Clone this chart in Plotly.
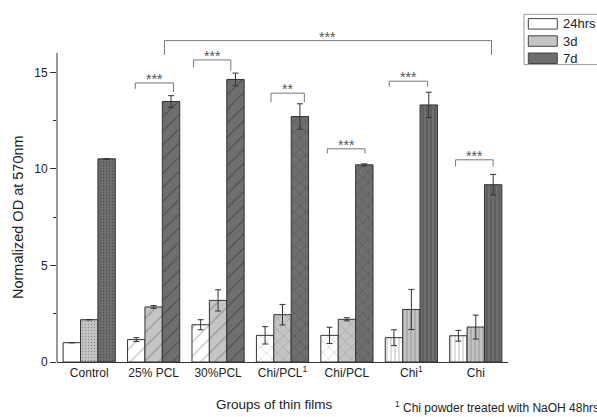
import plotly.graph_objects as go

# ---- data -------------------------------------------------------------
groups = ["Control", "25% PCL", "30%PCL", "Chi/PCL<sup>1</sup>", "Chi/PCL",
          "Chi<sup>1</sup>", "Chi"]
series = ["24hrs", "3d", "7d"]

od_24h = [1.00, 1.16, 1.93, 1.38, 1.38, 1.26, 1.36]
od_3d = [2.19, 2.85, 3.19, 2.45, 2.21, 2.72, 1.81]
od_7d = [10.52, 13.49, 14.63, 12.71, 10.21, 13.31, 9.18]

err_24h = [None, 0.10, 0.26, 0.45, 0.42, 0.41, 0.28]
err_3d = [None, 0.07, 0.55, 0.53, 0.08, 1.04, 0.62]
err_7d = [None, 0.30, 0.33, 0.66, 0.05, 0.66, 0.53]

# significance brackets: left x, right x, bar height, left leg end, right leg end, label
brackets = [
    (0.714, 1.308, 14.45, 14.14, 13.97, "***"),
    (1.618, 2.198, 15.64, 15.26, 15.09, "***"),
    (1.168, 6.244, 16.64, 15.90, 15.90, "***"),
    (2.822, 3.339, 13.92, 13.45, 13.45, "**"),
    (3.695, 4.280, 11.04, 10.80, 10.80, "***"),
    (4.657, 5.252, 14.54, 14.26, 14.26, "***"),
    (5.686, 6.269, 10.47, 10.12, 10.12, "***"),
]

footnote = "<sup>1</sup> Chi powder treated with NaOH 48hrs"

# ---- styling ----------------------------------------------------------
FONT = "Liberation Sans, Arial, sans-serif"
TXT = "#222222"
fills = ["#ffffff", "#c4c4c4", "#6e6e6e"]
hatch_fg = ["#666666", "#555555", "#2a2a2a"]
hatch = [".", "/", "/", "x", "x", "|", "|"]
hatch_size = [3, 10, 10, 8, 8, 4, 4]
hatch_solid = [0.15, 0.1, 0.1, 0.1, 0.1, 0.22, 0.22]

Y_MAX = 16
x_pos = list(range(len(groups)))

fig = go.Figure()
for i, (name, vals, errs) in enumerate(zip(series, [od_24h, od_3d, od_7d],
                                           [err_24h, err_3d, err_7d])):
    shapes_i = list(hatch)
    if i == 0:
        shapes_i[0] = ""  # plain white control bar
    fig.add_trace(go.Bar(
        name=name, x=x_pos, y=vals,
        marker=dict(
            color=fills[i],
            line=dict(color="#333333", width=1),
            pattern=dict(shape=shapes_i, fgcolor=hatch_fg[i], size=hatch_size,
                         solidity=hatch_solid, fillmode="overlay"),
        ),
        error_y=dict(type="data", array=errs, visible=True, color="#333333",
                     thickness=1, width=3),
        showlegend=False,
    ))

shapes = []
annotations = []

# y axis line, drawn only up to the top of the value range
shapes.append(dict(type="line", xref="paper", yref="paper", x0=0, x1=0, y0=0, y1=1,
                   line=dict(color="#333333", width=1)))

for xl, xr, yt, yl, yr, lab in brackets:
    path = (f"M {xl},{yl / Y_MAX} L {xl},{yt / Y_MAX} "
            f"L {xr},{yt / Y_MAX} L {xr},{yr / Y_MAX}")
    shapes.append(dict(type="path", xref="x", yref="paper", path=path,
                       line=dict(color="#777777", width=1)))
    annotations.append(dict(x=(xl + xr) / 2, y=yt / Y_MAX, xref="x", yref="paper",
                            text=lab, showarrow=False, yanchor="middle", yshift=4,
                            font=dict(family=FONT, size=14, color="#555555")))

# legend box
PL, PW = 57.0, 451.0
PB, PH = 361.7, 309.0
def px_x(v):
    return (v - PL) / PW
def px_y(v):
    return (PB - v) / PH

shapes.append(dict(type="rect", xref="paper", yref="paper",
                   x0=px_x(524), x1=px_x(604), y0=px_y(64.3), y1=px_y(14),
                   line=dict(color="#999999", width=1), fillcolor="white", layer="above"))
row_tops = [18.3, 35.5, 52.7]
for name, fc, top in zip(series, fills, row_tops):
    shapes.append(dict(type="rect", xref="paper", yref="paper",
                       x0=px_x(528.3), x1=px_x(557.3), y0=px_y(top + 10.5), y1=px_y(top),
                       line=dict(color="#444444", width=1), fillcolor=fc, layer="above"))
    annotations.append(dict(x=px_x(560.5), y=px_y(top + 5.2), xref="paper", yref="paper",
                            text=name, showarrow=False, xanchor="left", yanchor="middle",
                            font=dict(family=FONT, size=13, color=TXT)))

# axis titles and footnote
annotations.append(dict(x=px_x(18), y=px_y(216.7), xref="paper", yref="paper",
                        text="Normalized OD at 570nm", textangle=-90, showarrow=False,
                        xanchor="center", yanchor="middle",
                        font=dict(family=FONT, size=14.5, color=TXT)))
annotations.append(dict(x=px_x(274), y=px_y(404), xref="paper", yref="paper",
                        text="Groups of thin films", showarrow=False,
                        xanchor="center", yanchor="middle",
                        font=dict(family=FONT, size=13.5, color=TXT)))
annotations.append(dict(x=px_x(393), y=px_y(407), xref="paper", yref="paper",
                        text=footnote, showarrow=False,
                        xanchor="left", yanchor="middle",
                        font=dict(family=FONT, size=12, color=TXT)))

fig.update_layout(
    width=597, height=417,
    margin=dict(l=57, r=89, t=53, b=55),
    paper_bgcolor="white", plot_bgcolor="white",
    barmode="group", bargap=0.19, bargroupgap=0,
    font=dict(family=FONT, size=12, color=TXT),
    shapes=shapes, annotations=annotations,
    xaxis=dict(range=[-0.5, 6.5], tickvals=x_pos, ticktext=groups,
               showline=True, linecolor="#333333", linewidth=1,
               showgrid=False, zeroline=False, ticks="",
               tickfont=dict(family=FONT, size=12, color=TXT)),
    yaxis=dict(range=[0, Y_MAX], tickvals=[0, 5, 10, 15], showline=False,
               showgrid=False, zeroline=False, ticks="outside", ticklen=6,
               tickcolor="#333333", tickwidth=1,
               minor=dict(ticks="outside", ticklen=3, tickvals=[2.5, 7.5, 12.5],
                          tickcolor="#333333"),
               tickfont=dict(family=FONT, size=12, color=TXT)),
)

fig.write_html("out.html")
